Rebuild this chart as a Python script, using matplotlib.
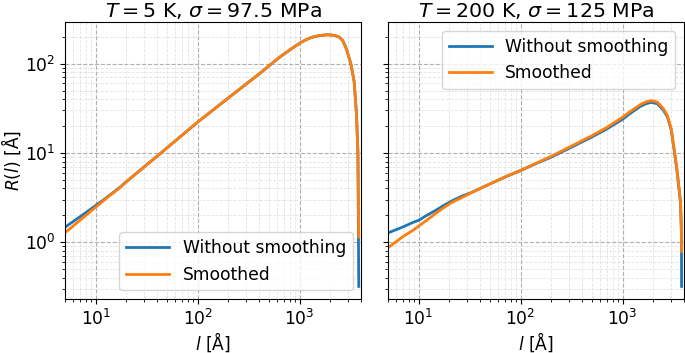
import matplotlib
matplotlib.use("Agg")
import matplotlib.pyplot as plt

plt.rcParams['font.size'] = 12.3

# left panel: T = 5 K, sigma = 97.5 MPa
l_left = [5, 6, 7, 8, 10, 12, 14, 17, 20, 30, 42.6, 60, 100, 200, 300, 400, 525, 631, 794,
          1000, 1122, 1259, 1413, 1585, 1778, 1862, 1995, 2239, 2432, 2630, 2818, 2931,
          3162, 3412, 3597, 3715, 3785]
R_left_smooth = [1.279, 1.521, 1.76, 2.0, 2.472, 2.938, 3.396, 4.018, 4.775, 7.02, 9.77, 13.6,
                 22.2, 41.4, 59.4, 76.7, 99, 117.5, 141.9, 169.4, 182.4, 193.6, 201.8, 206.5,
                 209.6, 210.2, 209.8, 205.5, 198.2, 182.0, 153.1, 134.0, 100, 63.1, 26.9, 10,
                 1.15]
R_left_raw = [1.472, 1.706, 1.928, 2.148, 2.582, 2.999, 3.428, 4.07, 4.775, 7.02, 9.77, 13.6,
              22.2, 41.4, 59.4, 76.7, 99, 117.5, 141.9, 169.4, 182.4, 193.6, 201.8, 206.5,
              209.6, 210.2, 209.8, 205.5, 198.2, 182.0, 153.1, 134.0, 100, 63.1, 26.9, 10,
              0.32]

# right panel: T = 200 K, sigma = 125 MPa
l_right = [5, 7, 8.9, 10, 12, 14.6, 17.5, 21.2, 26.6, 33, 50, 70, 100, 140, 200, 300, 500,
           700, 1000, 1200, 1500, 1700, 1910, 2200, 2500, 2750, 3000, 3245, 3400, 3550,
           3700, 3780, 3790]
R_right_smooth = [0.865, 1.153, 1.37, 1.514, 1.76, 2.08, 2.42, 2.79, 3.162, 3.589, 4.498,
                  5.370, 6.368, 7.60, 9.18, 11.59, 15.60, 19.28, 25.12, 29.3, 34.9, 37.3,
                  38.46, 37.07, 31.62, 26.30, 18.62, 10.0, 6.76, 4.365, 2.82, 1.26, 0.79]
R_right_raw = [1.27, 1.479, 1.675, 1.758, 1.995, 2.259, 2.57, 2.90, 3.28, 3.60, 4.49,
               5.35, 6.34, 7.55, 8.97, 11.27, 15.07, 18.53, 23.82, 27.9, 33.3, 35.6,
               36.81, 35.48, 30.34, 25.41, 18.11, 9.77, 6.61, 4.27, 2.75, 1.23, 0.32]

titles = [r"$T = 5$ K, $\sigma = 97.5$ MPa", r"$T = 200$ K, $\sigma = 125$ MPa"]

fig, axes = plt.subplots(1, 2, sharey=True, figsize=(6.85, 3.53), dpi=100)
fig.subplots_adjust(left=0.095, right=0.9985, top=0.937, bottom=0.153, wspace=0.09)

panels = [(l_left, R_left_raw, R_left_smooth), (l_right, R_right_raw, R_right_smooth)]
for ax, (l, raw, smooth), title in zip(axes, panels, titles):
    ax.plot(l, raw, color="tab:blue", lw=2, label="Without smoothing")
    ax.plot(l, smooth, color="tab:orange", lw=2, label="Smoothed")
    ax.set_xscale("log")
    ax.set_yscale("log")
    ax.set_xlim(5, 4000)
    ax.grid(which="major", ls="--", color="#b0b0b0", lw=0.8)
    ax.grid(which="minor", ls="--", color="#b0b0b0", lw=0.6, alpha=0.35)
    ax.set_title(title, pad=4)
    ax.set_xlabel(r"$l$ [Å]", labelpad=1)

axes[0].set_ylabel(r"$R(l)$ [Å]", labelpad=1)
axes[0].legend(loc="lower right", handlelength=2.5)
axes[1].legend(loc="upper right", handlelength=2.5)

plt.savefig("out.png")
